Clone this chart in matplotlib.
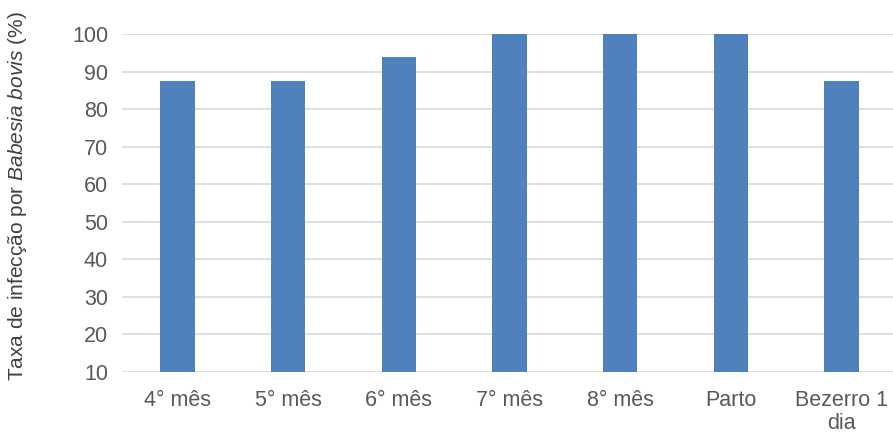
import matplotlib.pyplot as plt
import numpy as np

plt.rcParams['font.family'] = ['Liberation Sans', 'DejaVu Sans']
plt.rcParams['mathtext.fontset'] = 'custom'
plt.rcParams['mathtext.rm'] = 'Liberation Sans'
plt.rcParams['mathtext.it'] = 'Liberation Sans:italic'

# data
categorias = ["4° mês", "5° mês", "6° mês", "7° mês", "8° mês", "Parto", "Bezerro 1\ndia"]
taxa = [87.5, 87.5, 93.75, 100, 100, 100, 87.5]
yticks = [10, 20, 30, 40, 50, 60, 70, 80, 90, 100]

fig = plt.figure(figsize=(8.93, 4.34), dpi=100)
ax = fig.add_axes([122/893, 62/434, (897-122)/893, (372-34)/434])

x = np.arange(len(categorias))
ax.bar(x, np.array(taxa) - 10, bottom=10, width=0.31, color='#4f81bd', zorder=3)

ax.set_xlim(-0.5, len(categorias) - 0.5)
ax.set_ylim(10, 100)
ax.set_yticks(yticks)
ax.set_xticks(x)
ax.set_xticklabels(categorias, linespacing=1.1)
ax.grid(axis='y', color='#d9d9d9', linewidth=1.2, zorder=0)
for s in ax.spines.values():
    s.set_visible(False)
ax.tick_params(axis='both', length=0, labelsize=15.5, colors='#595959')
ax.tick_params(axis='y', pad=10)
ax.tick_params(axis='x', pad=13)

fig.text(18/893, 1 - 196/434, "Taxa de infecção por $\\mathit{Babesia\\ bovis}$ (%)",
         rotation=90, ha='center', va='center', fontsize=15, color='#404040')

fig.savefig("out.png", dpi=100)
